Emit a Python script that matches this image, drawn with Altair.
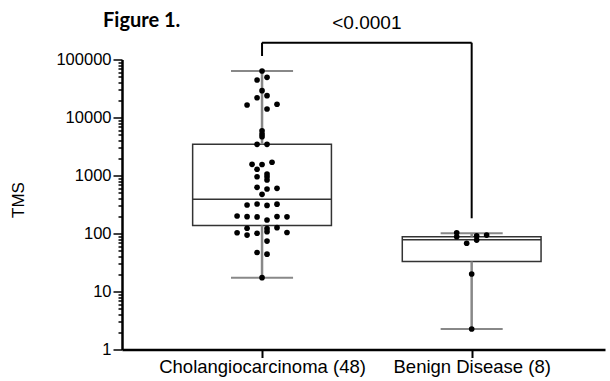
import altair as alt
import pandas as pd

# ---------------- data ----------------
groups = ["Cholangiocarcinoma (48)", "Benign Disease (8)"]

chol_tms = [63400, 44300, 49300, 29000, 21900, 23800, 16400, 14000, 16900,
            5920, 5200, 4670, 3450, 3450,
            1560, 1550, 1690, 1280, 1060, 953, 950, 836, 626, 585, 601, 474,
            310, 323, 305, 320,
            200, 195, 193, 171, 196, 194,
            103, 123, 94, 101, 121, 107, 126, 104,
            74, 47, 44, 17.3]
# horizontal scatter of each dot, in half-dot steps from the group centre
chol_jitter = [0, -1, 1, 0, -1, 1, -3, 1, 3,
               0, 0, 0, -1, 1,
               -2, 0, 2, -1, 1, -1, 1, 1, -1, 1, 3, 0,
               -3, -1, 1, 3,
               -5, -3, -1, 1, 3, 5,
               -5, -3, -3, -1, 1, 1, 3, 5,
               1, -1, 1, 0]

benign_tms = [103, 88, 68, 91, 77, 94, 20, 2.26]
benign_jitter = [-3, -3, -1, 1, 1, 3, 0, 0]

stat_min = [17.3, 2.26]
stat_q1 = [138, 33]
stat_median = [390, 78]
stat_q3 = [3450, 88]
stat_max = [63400, 101]

p_value_text = "<0.0001"
bracket_top = 195000
bracket_left_end = 115000
bracket_right_end = 183
p_text_level = 430000

y_tick_values = [m * 10 ** k for k in range(5) for m in range(1, 10)] + [100000]
y_major = [1, 10, 100, 1000, 10000, 100000]

# ---------------- tables ----------------
pts = pd.DataFrame({
    "idx": [0] * len(chol_tms) + [1] * len(benign_tms),
    "value": chol_tms + benign_tms,
    "jitter": chol_jitter + benign_jitter,
})
stats = pd.DataFrame({
    "idx": [0, 1],
    "min": stat_min, "q1": stat_q1, "median": stat_median,
    "q3": stat_q3, "max": stat_max,
})
bracket = pd.DataFrame({"a": [0], "b": [1], "top": [bracket_top],
                        "lend": [bracket_left_end], "rend": [bracket_right_end],
                        "ty": [p_text_level], "label": [p_value_text]})

BOX_HALF = 0.331
CAP_HALF = 0.148
STEP = 0.0238

FONT = "Liberation Sans"
xs = alt.Scale(domain=[-0.668, 1.636], nice=False, zero=False)
ys = alt.Scale(type="log", domain=[1, 100000], nice=False)

label_map = "datum.value == 0 ? '%s' : (datum.value == 1 ? '%s' : '')" % (groups[0], groups[1])
xaxis = alt.Axis(values=[0, 1], labelExpr=label_map, title=None, grid=False,
                 domainColor="black", domainWidth=2.5, tickColor="black",
                 tickWidth=2, tickSize=8, labelFont=FONT, labelFontSize=18.5,
                 labelColor="black", labelPadding=0, labelOverlap=False,
                 labelFlush=False, labelLimit=0)
major_test = "indexof(%s, datum.value) >= 0" % str(y_major)
yaxis = alt.Axis(values=y_tick_values,
                 labelExpr="%s ? format(datum.value, 'd') : ''" % major_test,
                 title="TMS", titleFont=FONT, titleFontSize=17,
                 titleFontWeight="normal", titleColor="black",
                 titleX=-104, titleY=140, titleAlign="center",
                 titleBaseline="middle", titleAngle=-90,
                 grid=False, domainColor="black", domainWidth=2.5,
                 tickColor="black", tickWidth=1.5,
                 tickSize={"condition": {"test": major_test, "value": 9}, "value": 4},
                 labelFont=FONT, labelFontSize=16.5, labelColor="black",
                 labelPadding=2, labelOverlap=False)


def X(field):
    return alt.X(field, scale=xs, axis=xaxis)


def Y(field):
    return alt.Y(field, scale=ys, axis=yaxis)


base_stats = alt.Chart(stats)

box = base_stats.transform_calculate(
    xl="datum.idx - %f" % BOX_HALF, xr="datum.idx + %f" % BOX_HALF
).mark_rect(fill="white", stroke="#333333", strokeWidth=1.5).encode(
    x=X("xl:Q"), x2="xr:Q", y=Y("q1:Q"), y2="q3:Q",
)
med = base_stats.transform_calculate(
    xl="datum.idx - %f" % BOX_HALF, xr="datum.idx + %f" % BOX_HALF
).mark_rule(color="#333333", strokeWidth=1.5).encode(
    x=X("xl:Q"), x2="xr:Q", y=Y("median:Q"),
)
wh_top = base_stats.mark_rule(color="#888888", strokeWidth=2.5).encode(
    x=X("idx:Q"), y=Y("q3:Q"), y2="max:Q",
)
wh_bot = base_stats.mark_rule(color="#888888", strokeWidth=2.5).encode(
    x=X("idx:Q"), y=Y("min:Q"), y2="q1:Q",
)
cap_calc = dict(cl="datum.idx - %f" % CAP_HALF, cr="datum.idx + %f" % CAP_HALF)
cap_top = base_stats.transform_calculate(**cap_calc).mark_rule(
    color="#888888", strokeWidth=2).encode(
    x=X("cl:Q"), x2="cr:Q", y=Y("max:Q"),
)
cap_bot = base_stats.transform_calculate(**cap_calc).mark_rule(
    color="#888888", strokeWidth=2).encode(
    x=X("cl:Q"), x2="cr:Q", y=Y("min:Q"),
)
dots = alt.Chart(pts).transform_calculate(
    xj="datum.idx + datum.jitter * %f" % STEP
).mark_circle(size=32, color="black", opacity=1).encode(
    x=X("xj:Q"), y=Y("value:Q"),
)

bbase = alt.Chart(bracket)
br_h = bbase.mark_rule(color="black", strokeWidth=2).encode(
    x=X("a:Q"), x2="b:Q", y=Y("top:Q"),
)
br_l = bbase.mark_rule(color="black", strokeWidth=2).encode(
    x=X("a:Q"), y=Y("lend:Q"), y2="top:Q",
)
br_r = bbase.mark_rule(color="black", strokeWidth=2).encode(
    x=X("b:Q"), y=Y("rend:Q"), y2="top:Q",
)
ptext = bbase.transform_calculate(mid="(datum.a + datum.b) / 2").mark_text(
    font=FONT, fontSize=19, color="black", baseline="middle", align="center"
).encode(
    x=X("mid:Q"), y=Y("ty:Q"), text="label:N",
)

chart = alt.layer(
    box, wh_top, wh_bot, cap_top, cap_bot, med, dots, br_h, br_l, br_r, ptext
).properties(
    width=483, height=290,
    background="white",
    autosize=alt.AutoSizeParams(type="none"),
    padding={"left": 122, "top": 59.5, "right": 5, "bottom": 31.5},
    title=alt.TitleParams(text="Figure 1.", anchor="start", frame="group",
                          font="Lato", fontSize=20, fontWeight="bold",
                          color="black", dx=-19, dy=27, offset=10),
).configure_view(stroke=None)

chart.save("out.html", embed_options={"renderer": "svg", "actions": False})
